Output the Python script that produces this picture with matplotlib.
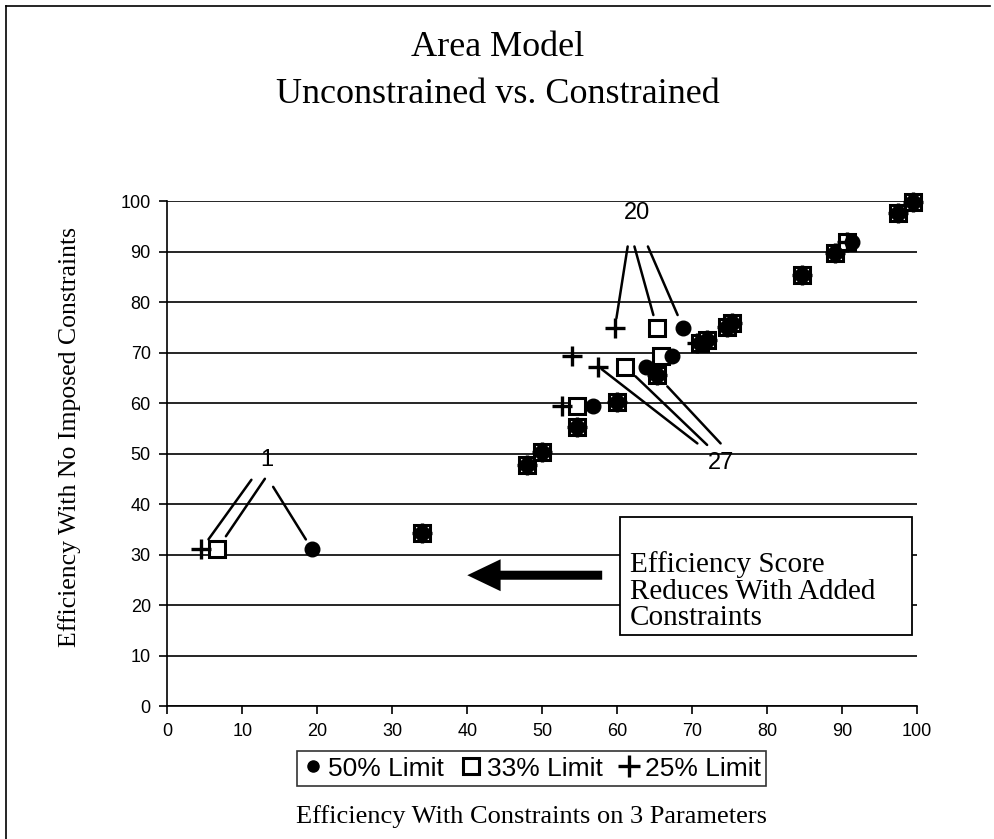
import matplotlib

matplotlib.use("Agg")
import matplotlib.pyplot as plt
from matplotlib.lines import Line2D
from matplotlib.patches import Rectangle

# one entry per unit: unconstrained efficiency and efficiency under each limit
EFF_FREE = [31.0, 34.3, 47.7, 50.3, 55.2, 59.4, 60.3, 65.5, 67.2, 69.4,
            71.8, 72.5, 74.9, 75.1, 75.8, 85.3, 89.7, 91.9, 97.6, 99.9]
EFF_50 = [19.3, 34.0, 48.0, 50.0, 54.7, 56.8, 60.0, 65.3, 63.9, 67.3,
          71.0, 72.0, 68.8, 74.6, 75.3, 84.7, 89.1, 91.3, 97.4, 99.5]
EFF_33 = [6.6, 34.0, 48.0, 50.0, 54.7, 54.6, 60.0, 65.3, 61.1, 65.9,
          71.0, 72.0, 65.3, 74.6, 75.3, 84.7, 89.1, 90.7, 97.4, 99.5]
EFF_25 = [4.5, 34.0, 48.0, 50.0, 54.7, 52.6, 60.0, 65.3, 57.5, 54.0,
          70.7, 72.0, 59.7, 74.6, 75.3, 84.7, 89.1, 90.7, 97.4, 99.5]

SERIES_LABELS = ["50% Limit", "33% Limit", "25% Limit"]
TICKS = list(range(0, 101, 10))

SERIF = "Liberation Serif"
SANS = "Liberation Sans"

fig = plt.figure(figsize=(9.95, 8.39), dpi=100)
ax = fig.add_axes([0.1683, 0.1585, 0.7533, 0.6019])
ax.set_xlim(0, 100)
ax.set_ylim(0, 100)
ax.set_xticks(TICKS)
ax.set_yticks(TICKS)
ax.yaxis.grid(True, color="black", lw=1.2)
ax.set_axisbelow(True)
for s in ("top", "right"):
    ax.spines[s].set_visible(False)
for s in ("left", "bottom"):
    ax.spines[s].set_linewidth(1.2)
ax.tick_params(direction="out", length=6, width=1.2, labelsize=13, pad=6)
for lab in ax.get_xticklabels() + ax.get_yticklabels():
    lab.set_fontfamily(SANS)

sq = dict(marker="s", ms=11, mfc="white", mec="black", mew=2.2, ls="none")
cir = dict(marker="o", ms=10.5, color="black", ls="none")
plus = dict(marker="+", ms=14, mec="black", mew=2.4, ls="none")
ax.plot(EFF_33, EFF_FREE, **sq, zorder=3, clip_on=False)
ax.plot(EFF_50, EFF_FREE, **cir, zorder=4, clip_on=False)
ax.plot(EFF_25, EFF_FREE, **plus, zorder=5, clip_on=False)

# callouts: label, label pos, and (series, unit, line start, shrink)
series = {"50": EFF_50, "33": EFF_33, "25": EFF_25}
callouts = [
    ("1", (13.2, 48.7), [("25", 0, (11.2, 44.8), 9), ("33", 0, (13.0, 45.0), 11.5),
                         ("50", 0, (14.1, 43.4), 8.5)]),
    ("20", (62.6, 97.6), [("25", 12, (61.4, 91.0), 7), ("33", 12, (62.3, 91.0), 9.5),
                          ("50", 12, (64.1, 91.0), 10)]),
    ("27", (73.8, 48.1), [("25", 8, (70.7, 52.0), 3), ("33", 8, (72.0, 51.7), 10),
                          ("50", 7, (73.8, 52.0), 11)]),
]
for text, pos, lines in callouts:
    ax.text(*pos, text, ha="center", va="center", fontsize=17, family=SANS, zorder=6)
    for key, i, start, shrink in lines:
        ax.annotate("", xy=(series[key][i], EFF_FREE[i]), xytext=start,
                    arrowprops=dict(arrowstyle="-", lw=1.8, color="black",
                                    shrinkA=0, shrinkB=shrink), zorder=6)

ax.annotate("", xy=(40, 25.9), xytext=(58, 25.9),
            arrowprops=dict(arrowstyle="simple,head_length=2.4,head_width=2.3,tail_width=0.65",
                            fc="black", ec="none", lw=0, shrinkA=0, shrinkB=0,
                            mutation_scale=10))

# note box
fig.add_artist(Rectangle((0.623, 0.2432), 0.294, 0.1406, transform=fig.transFigure,
                         fc="white", ec="black", lw=1.3, zorder=5))
for k, line in enumerate(["Efficiency Score", "Reduces With Added", "Constraints"]):
    fig.text(0.633, 0.3182 - k * 0.0318, line, fontsize=21, family=SERIF,
             va="baseline", ha="left", zorder=6)

fig.text(0.5, 0.943, "Area Model", ha="center", va="center", fontsize=26, family=SERIF)
fig.text(0.5, 0.887, "Unconstrained vs. Constrained", ha="center", va="center",
         fontsize=26, family=SERIF)
fig.text(0.070, 0.479, "Efficiency With No Imposed Constraints", rotation=90,
         ha="center", va="center", fontsize=18.5, family=SERIF)
fig.text(0.534, 0.027, "Efficiency With Constraints on 3 Parameters",
         ha="center", va="center", fontsize=19, family=SERIF)

handles = [Line2D([], [], **dict(cir, ms=8)), Line2D([], [], **dict(sq, ms=12)),
           Line2D([], [], **dict(plus, ms=16))]
leg = fig.legend(handles, SERIES_LABELS, loc="center", bbox_to_anchor=(0.534, 0.084),
                 ncol=3, frameon=True, fancybox=False, edgecolor="black",
                 prop={"family": SANS, "size": 19}, handlelength=0.8,
                 handletextpad=0.2, columnspacing=0.6, borderpad=0.2,
                 borderaxespad=0)
leg.get_frame().set_linewidth(1.2)

# page frame
fig.add_artist(Line2D([0.006, 0.006], [0.0, 0.993], transform=fig.transFigure,
                      color="black", lw=1.2))
fig.add_artist(Line2D([0.006, 0.995], [0.993, 0.993], transform=fig.transFigure,
                      color="black", lw=1.2))

fig.savefig("out.png", dpi=100)
